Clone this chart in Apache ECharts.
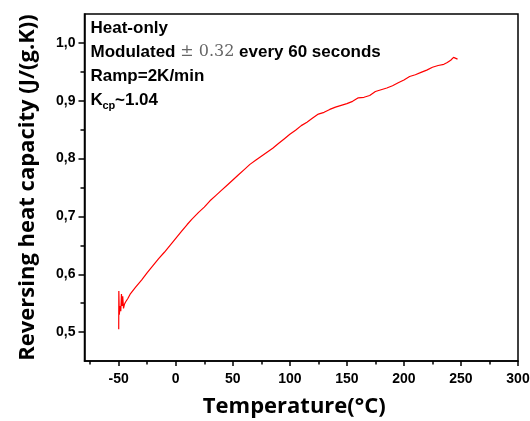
<!DOCTYPE html>
<html>
<head>
<meta charset="utf-8">
<script src="https://cdn.jsdelivr.net/npm/echarts@6/dist/echarts.min.js"></script>
<style>html,body{margin:0;padding:0;background:#fff;}#c{width:530px;height:421px;}</style>
</head>
<body>
<div id="c"></div>
<script>
// Temperature (°C)
const temps = [-50.0, -49.9, -49.5, -48.8, -48.2, -47.6, -47.0, -46.5, -45.8, -45.0, -44.0, -42, -40, -35, -30, -25, -20, -15, -10, -5, 0, 5, 10, 14, 20, 25, 30, 35, 40, 45, 50, 55, 60, 65, 70, 75, 80, 85, 90, 95, 100, 105, 110, 115, 120, 125, 130, 135, 140, 145, 150, 155, 160, 165, 170, 175, 180, 185, 190, 195, 200, 205, 210, 215, 220, 225, 230, 235, 238, 241, 243.5, 245, 247];
// Reversing heat capacity (J/(g.K))
const capacity = [0.505, 0.571, 0.530, 0.545, 0.536, 0.566, 0.545, 0.562, 0.541, 0.548, 0.552, 0.558, 0.5655, 0.578, 0.590, 0.603, 0.615, 0.627, 0.638, 0.650, 0.662, 0.674, 0.686, 0.695, 0.707, 0.716, 0.727, 0.736, 0.745, 0.754, 0.763, 0.772, 0.781, 0.790, 0.797, 0.804, 0.811, 0.818, 0.826, 0.834, 0.842, 0.849, 0.857, 0.863, 0.870, 0.877, 0.880, 0.885, 0.889, 0.892, 0.895, 0.899, 0.905, 0.906, 0.909, 0.916, 0.919, 0.922, 0.926, 0.931, 0.936, 0.942, 0.945, 0.949, 0.953, 0.958, 0.961, 0.963, 0.966, 0.970, 0.975, 0.973, 0.972];
const xMajorTicks = [-50, 0, 50, 100, 150, 200, 250, 300];
const xMinorTicks = [-75, -25, 25, 75, 125, 175, 225, 275];
const yMajorTicks = [0.5, 0.6, 0.7, 0.8, 0.9, 1.0];
const yMinorTicks = [0.55, 0.65, 0.75, 0.85, 0.95];

const data = temps.map((t, i) => [t, capacity[i]]);
const chart = echarts.init(document.getElementById('c'), null, {renderer: 'canvas'});
const tickFont = {fontFamily: 'Liberation Sans, Arial', fontWeight: 'bold', fontSize: 14, color: '#000'};
const txtFont = 'bold 17px "Liberation Sans", Arial';
chart.setOption({
  animation: false,
  backgroundColor: '#fff',
  grid: {left: 84.5, right: 12, top: 14, bottom: 60, containLabel: false, outerBoundsMode: 'none', show: true, borderColor: '#000', borderWidth: 1.5, backgroundColor: 'transparent'},
  xAxis: [{
    type: 'value', min: -80, max: 300, position: 'bottom',
    name: 'Temperature(°C)', nameLocation: 'middle', nameGap: 35,
    nameTextStyle: {fontFamily: 'Open Sans', fontWeight: 'bold', fontSize: 22, color: '#000', padding: [0, 14, 0, 0]},
    axisLine: {show: true, onZero: false, lineStyle: {color: '#000', width: 1.5}},
    axisTick: {show: true, customValues: xMajorTicks, length: 5, lineStyle: {color: '#000', width: 1.5}},
    axisLabel: Object.assign({customValues: xMajorTicks, margin: 11}, tickFont),
    splitLine: {show: false}
  }, {
    type: 'value', min: -80, max: 300, position: 'bottom', gridIndex: 0,
    axisLine: {show: false, onZero: false},
    axisTick: {show: true, customValues: xMinorTicks, length: 3.5, lineStyle: {color: '#000', width: 1.5}},
    axisLabel: {show: false},
    splitLine: {show: false}
  }],
  yAxis: [{
    type: 'value', min: 0.45, max: 1.05, position: 'left',
    name: 'Reversing heat capacity (J/(g.K))', nameLocation: 'middle', nameGap: 46,
    nameTextStyle: {fontFamily: 'Open Sans', fontWeight: 'bold', fontSize: 22, color: '#000'},
    axisLine: {show: true, onZero: false, lineStyle: {color: '#000', width: 1.5}},
    axisTick: {show: true, customValues: yMajorTicks, length: 6, lineStyle: {color: '#000', width: 1.5}},
    axisLabel: Object.assign({customValues: yMajorTicks, margin: 9, formatter: v => v.toFixed(1).replace('.', ',')}, tickFont),
    splitLine: {show: false}
  }, {
    type: 'value', min: 0.45, max: 1.05, position: 'left', gridIndex: 0,
    axisLine: {show: false, onZero: false},
    axisTick: {show: true, customValues: yMinorTicks, length: 4, lineStyle: {color: '#000', width: 1.5}},
    axisLabel: {show: false},
    splitLine: {show: false}
  }],
  series: [{
    type: 'line', data: data, xAxisIndex: 0, yAxisIndex: 0,
    showSymbol: false, symbol: 'none',
    lineStyle: {color: '#ff0000', width: 1.2}
  }],
  graphic: [
    {type: 'text', x: 90.5, y: 28, style: {text: 'Heat-only', font: txtFont, fill: '#000', verticalAlign: 'middle'}},
    {type: 'text', x: 90.5, y: 52, style: {
      text: '{b|Modulated }{m|± 0.32}{b| every 60 seconds}', verticalAlign: 'middle',
      rich: {
        b: {font: txtFont, fill: '#000'},
        m: {font: '16px "DejaVu Serif"', fill: '#666'}
      }
    }},
    {type: 'text', x: 90.5, y: 76, style: {text: 'Ramp=2K/min', font: txtFont, fill: '#000', verticalAlign: 'middle'}},
    {type: 'text', x: 90.5, y: 100, style: {text: 'K', font: txtFont, fill: '#000', verticalAlign: 'middle'}},
    {type: 'text', x: 102.5, y: 106, style: {text: 'cp', font: 'bold 11px "Liberation Sans", Arial', fill: '#000', verticalAlign: 'middle'}},
    {type: 'text', x: 115, y: 100, style: {text: '~1.04', font: txtFont, fill: '#000', verticalAlign: 'middle'}}
  ]
});
</script>
</body>
</html>
